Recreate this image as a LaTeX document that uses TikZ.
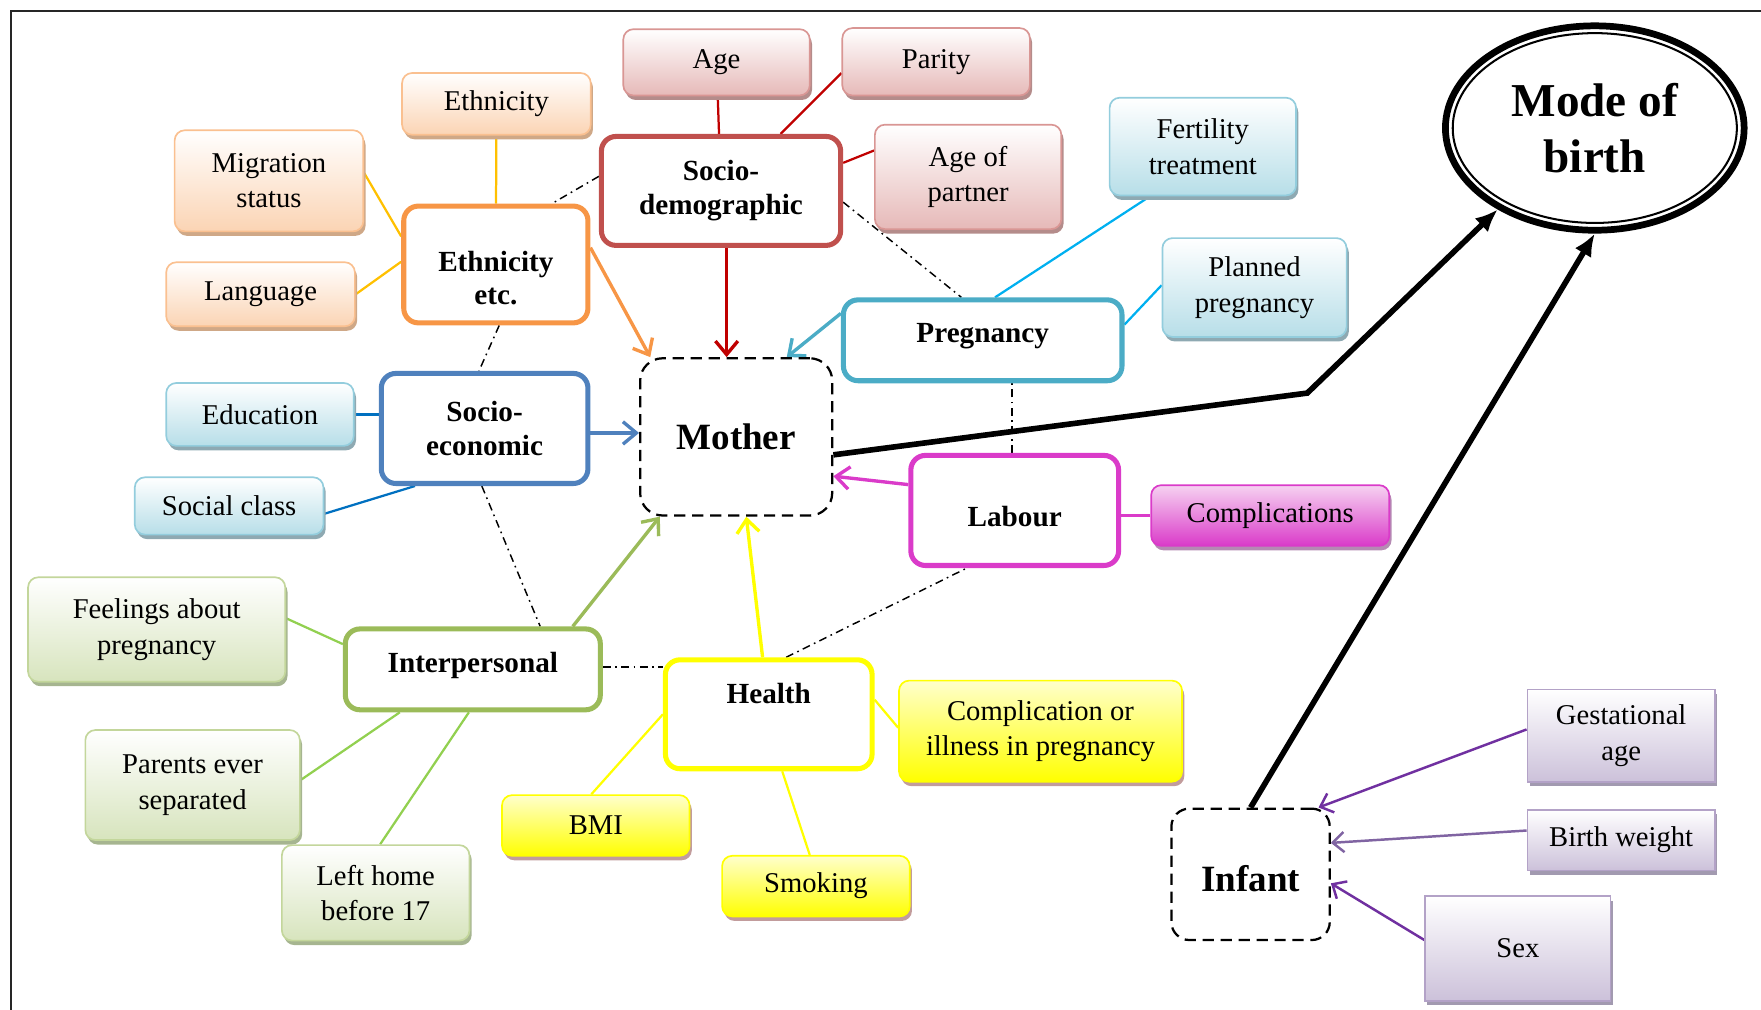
\documentclass[tikz,border=0pt]{standalone}
\usepackage{fontspec}
\setmainfont{Liberation Serif}
\usetikzlibrary{arrows.meta,shapes.geometric,shadows}
\pgfdeclarelayer{background}
\pgfsetlayers{background,main}

\definecolor{oB}{HTML}{FAC090}
\definecolor{oF}{HTML}{FBD4B4}
\definecolor{oS}{HTML}{CFA887}
\definecolor{oM}{HTML}{F79646}
\definecolor{gold}{HTML}{FFC000}
\definecolor{rB}{HTML}{D99694}
\definecolor{rF}{HTML}{E6B9B8}
\definecolor{rS}{HTML}{B48C8B}
\definecolor{rM}{HTML}{C0504D}
\definecolor{rL}{HTML}{C00000}
\definecolor{bB}{HTML}{93CDDD}
\definecolor{bF}{HTML}{B7DEE8}
\definecolor{bS}{HTML}{8EA9B2}
\definecolor{bM}{HTML}{4F81BD}
\definecolor{bL}{HTML}{0070C0}
\definecolor{tM}{HTML}{4BACC6}
\definecolor{tL}{HTML}{00B0F0}
\definecolor{mM}{HTML}{DA3BC9}
\definecolor{mF}{HTML}{F6D2F1}
\definecolor{mS}{HTML}{B58AB3}
\definecolor{gB}{HTML}{C3D69B}
\definecolor{gF}{HTML}{D7E4BD}
\definecolor{gS}{HTML}{A6B590}
\definecolor{gM}{HTML}{9BBB59}
\definecolor{gL}{HTML}{92D050}
\definecolor{yB}{HTML}{FFFF00}
\definecolor{yT}{HTML}{FFFFCC}
\definecolor{yS}{HTML}{C29C9C}
\definecolor{pB}{HTML}{B3A2C7}
\definecolor{pF}{HTML}{CCC1DA}
\definecolor{pS}{HTML}{A29AB0}
\definecolor{pL}{HTML}{7030A0}
\definecolor{pLb}{HTML}{8064A2}

\newcommand\fsub{\fontsize{25.5}{31.5}\selectfont}
\newcommand\fgrp{\fontsize{26}{30}\selectfont\bfseries}
\newcommand\fbig{\fontsize{33}{40}\selectfont\bfseries}
\newcommand\fmode{\fontsize{42}{50}\selectfont\bfseries}

\tikzset{
 sz/.style 2 args={minimum width=#1pt, minimum height=#2pt},
 subbox/.style={draw, rounded corners=9pt, line width=1.5pt, inner sep=0pt, align=center, font=\fsub},
 shad/.style={drop shadow={shadow xshift=2pt,shadow yshift=-4pt,fill=#1,opacity=1}},
 osub/.style={subbox, draw=oB, top color=white, bottom color=oF, shad=oS},
 rsub/.style={subbox, draw=rB, top color=white, bottom color=rF, shad=rS},
 bsub/.style={subbox, draw=bB, top color=white, bottom color=bF, shad=bS},
 msub/.style={subbox, draw=mM, top color=mF, bottom color=mM, shad=mS},
 gsub/.style={subbox, draw=gB, top color=white, bottom color=gF, shad=gS},
 ysub/.style={subbox, draw=yB, top color=yT, bottom color=yB, shad=yS},
 psub/.style={subbox, rounded corners=0pt, draw=pB, top color=white, bottom color=pF, shad=pS},
 grp/.style={draw, fill=white, rounded corners=13pt, line width=4.5pt, inner sep=0pt, align=center, font=\fgrp},
 dashbox/.style={draw, rounded corners=20pt, line width=2pt, dash pattern=on 10pt off 6pt, inner sep=0pt, align=center, font=\fbig},
 modebox/.style={ellipse, draw, fill=white, line width=6pt, minimum width=266pt, minimum height=182pt, inner sep=0pt, align=center, font=\fmode},
 ln/.style={line width=2pt},
 dd/.style={line width=1.3pt, dash pattern=on 7pt off 4pt on 1.5pt off 4pt},
 arr/.style={line width=3pt, -{Straight Barb[length=12pt,width=20pt]}},
 parr/.style={line width=2.2pt, -{Straight Barb[length=10pt,width=18pt]}},
 barr/.style={line width=5pt, line join=miter, -{Latex[length=20pt,width=17pt]}},
}

\begin{document}
\begin{tikzpicture}[x=1pt,y=-1pt]
\useasboundingbox (0,0) rectangle (1568,899);
\draw[line width=1.5pt, black!85] (10,899) -- (10,10) -- (1568,10);

% ethnicity group
\node[osub, sz={168}{55}] (eths) at (442,92.5) {Ethnicity};
\node[osub, sz={168}{90}] (mig) at (239.5,161) {Migration\\status};
\node[osub, sz={168}{57}] (lang) at (232,262) {Language};
\node[grp, draw=oM, sz={164}{104}, text height=72pt, text depth=0pt] (ethg) at (441.5,235.5) {Ethnicity\\etc.};
% socio-demographic group
\node[rsub, sz={166}{59}] (age) at (638,55.5) {Age};
\node[rsub, sz={167}{60}] (par) at (833.5,55) {Parity};
\node[grp, draw=rM, sz={213}{97}] (sd) at (642,170) {Socio-\\demographic};
\node[rsub, sz={166}{93}] (aop) at (862,157.5) {Age of\\partner};
% pregnancy group
\node[bsub, sz={166}{87}] (fert) at (1071,130.5) {Fertility\\treatment};
\node[bsub, sz={164}{88}] (plan) at (1117,256) {Planned\\pregnancy};
\node[grp, draw=tM, sz={248}{72}, text height=18pt, text depth=14.8pt] (pg) at (875,303) {Pregnancy};
% outcome
\node[modebox] (mob) at (1420,114) {Mode of\\birth};
\draw[line width=1.8pt] (mob.center) ellipse [x radius=126.5pt, y radius=84.5pt];
% socio-economic group
\node[bsub, sz={167}{56}] (edu) at (231.5,369) {Education};
\node[grp, draw=bM, sz={184}{98}] (se) at (431.5,381.5) {Socio-\\economic};
\node[bsub, sz={168}{51}] (soc) at (204,450.5) {Social class};
% mother
\node[dashbox, sz={171}{140}] (mo) at (655.5,389) {Mother};
% labour group
\node[grp, draw=mM, sz={185}{98}, text height=30pt, text depth=1.8pt] (lab) at (903.5,454.5) {Labour};
\node[msub, sz={212}{54}] (comp) at (1131,459) {Complications};
% interpersonal group
\node[gsub, sz={229}{93}] (feel) at (139.5,560.5) {Feelings about\\pregnancy};
\node[grp, draw=gM, sz={227}{72}, text height=18pt, text depth=12.8pt] (ip) at (421,596) {Interpersonal};
\node[gsub, sz={191}{98}] (par2) at (171.5,699) {Parents ever\\separated};
\node[gsub, sz={167}{85}] (lh) at (334.5,795) {Left home\\before 17};
% health group
\node[grp, draw=yB, sz={184}{97}, text height=18pt, text depth=36.8pt] (hl) at (684.5,636) {Health};
\node[ysub, sz={252}{90}] (cip) at (926.5,651) {Complication or\\illness in pregnancy};
\node[ysub, sz={167}{54}] (bmi) at (530.5,735) {BMI};
\node[ysub, sz={167}{54}] (smk) at (726.5,789) {Smoking};
% infant group
\node[dashbox, rounded corners=16pt, sz={141}{117}, text height=32pt, text depth=2.2pt] (inf) at (1113.5,778.5) {Infant};
\node[psub, sz={167}{82}] (gest) at (1443.5,655) {Gestational\\age};
\node[psub, sz={167}{54}] (bw) at (1443.5,748) {Birth weight};
\node[psub, sz={165}{93}] (sex) at (1351.5,844.5) {Sex};

\coordinate (bend) at (1164,350);

\begin{pgfonlayer}{background}
% dash-dot links between groups
\draw[dd] ([yshift=13pt]sd.west) -- ([xshift=50pt]ethg.north);
\draw[dd] ([yshift=-10pt]sd.east) -- ([xshift=-19pt]pg.north);
\draw[dd] ([xshift=3pt]ethg.south) -- ([xshift=-5pt]se.north);
\draw[dd] ([xshift=-2.5pt]se.south) -- ([xshift=60pt]ip.north);
\draw[dd] ([yshift=2pt]ip.east) -- ([yshift=2pt]ip.east -| hl.west);
\draw[dd] ([xshift=15.5pt]hl.north) -- ([xshift=-42.5pt]lab.south);
\draw[dd] ([xshift=-2.5pt]lab.north) -- ([xshift=-2.5pt]lab.north |- pg.south);
% ethnicity
\draw[ln,gold] (eths) -- (ethg);
\draw[ln,gold] ([yshift=7pt]mig.east) -- ([yshift=25pt]ethg.west);
\draw[ln,gold] (lang.east) -- ([yshift=2.5pt]ethg.west);
\draw[arr,oM] ([yshift=15pt]ethg.east) -- ([xshift=10pt]mo.north west);
% socio-demographic
\draw[ln,rL] (age) -- (sd);
\draw[ln,rL] ([yshift=-10pt]par.west) -- ([xshift=53pt]sd.north);
\draw[ln,rL] ([yshift=23.5pt]aop.west) -- ([yshift=25pt]sd.east);
\draw[arr,rL] ([xshift=5pt]sd.south) -- ([xshift=-8.5pt]mo.north);
% socio-economic
\draw[ln,bL] (edu.east) -- (edu.east -| se.west);
\draw[ln,bL] ([yshift=-7pt]soc.east) -- ([xshift=-62pt]se.south);
\draw[arr,bM] ([yshift=-4pt]se.east) -- ([yshift=-4pt]se.east -| mo.west);
% pregnancy
\draw[ln,tL] ([xshift=-47pt]fert.south) -- ([xshift=11pt]pg.north);
\draw[ln,tL] ([yshift=2pt]plan.west) -- ([yshift=14pt]pg.east);
\draw[arr,tM] ([yshift=24pt]pg.west) -- ([xshift=45pt]mo.north);
% labour
\draw[arr,mM] ([yshift=23pt]lab.west) -- ([yshift=-35pt]mo.east);
\draw[ln,mM] (comp.west) -- (comp.west -| lab.east);
% interpersonal
\draw[ln,gL] ([yshift=10pt]feel.east) -- ([yshift=22.5pt]ip.west);
\draw[ln,gL] ([yshift=4.5pt]par2.east) -- ([xshift=-65pt]ip.south);
\draw[ln,gL] ([xshift=4pt]lh.north) -- ([xshift=-3.5pt]ip.south);
\draw[arr,gM] ([xshift=89pt]ip.north) -- ([xshift=-68pt]mo.south);
% health
\draw[arr,yB] ([xshift=-5.5pt]hl.north) -- ([xshift=9pt]mo.south);
\draw[ln,yB] ([xshift=-4pt]bmi.north) -- (hl.west);
\draw[ln,yB] ([xshift=-5.5pt]smk.north) -- ([xshift=12pt]hl.south);
\draw[ln,yB] ([yshift=3pt]cip.west) -- ([yshift=13pt]hl.east);
% infant
\draw[parr,pL] ([yshift=5.5pt]gest.west) -- ([xshift=-11pt]inf.north east);
\draw[parr,pLb] ([yshift=8.5pt]bw.west) -- ([yshift=28pt]inf.east);
\draw[parr,pL] ([yshift=7.5pt]sex.west) -- ([yshift=-8pt]inf.east);
\end{pgfonlayer}

% paths to mode of birth
\draw[barr] ([yshift=-16pt]mo.east) -- (bend) -- (mob.220);
\draw[barr] (inf.north) -- (mob.south);
\end{tikzpicture}
\end{document}
